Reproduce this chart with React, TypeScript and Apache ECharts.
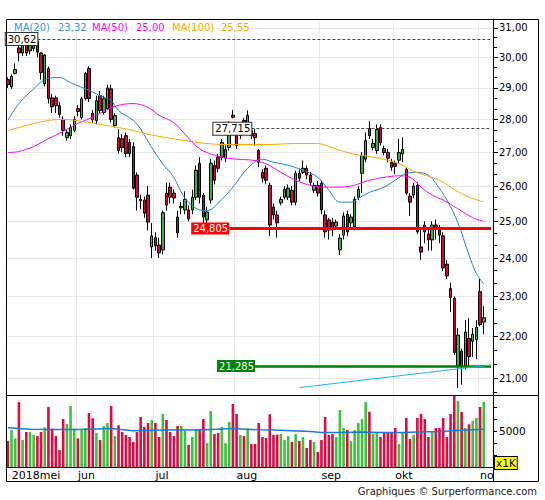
import React, { useEffect, useRef } from 'react';
import * as echarts from 'echarts';

// trading days start on Monday 7 May 2018; two empty slots sit before the price axis
const firstDay = '2018-05-07';
const slotCount = 132;
const monthLabels = ['2018mei', 'jun', 'jul', 'aug', 'sep', 'okt', 'no'];

const opens = [
  29.27, 29.04, 29.47, 30.32, 30.15, 30.42, 30.22, 30.30, 30.55, 30.15,
  29.13, 29.63, 28.68, 28.68, 28.43, 28.00, 27.44, 27.50, 27.66, 28.34,
  28.06, 28.66, 29.63, 28.20, 27.97, 28.75, 28.22, 28.34, 28.97, 27.81,
  27.44, 27.41, 27.50, 27.29, 27.17, 26.32, 25.62, 25.60, 25.74, 24.30,
  24.55, 24.35, 24.22, 25.80, 25.97, 25.80, 25.12, 25.38, 25.32, 25.32,
  25.32, 25.68, 26.67, 25.74, 25.04, 25.60, 26.60, 26.85, 26.85, 26.82,
  27.14, 28.13, 27.50, 27.50, 27.97, 27.66, 27.66, 27.57, 27.05, 26.40,
  26.52, 26.02, 25.40, 25.18, 25.52, 25.68, 25.68, 25.88, 25.54, 26.37,
  26.40, 26.52, 26.32, 25.88, 26.02, 26.08, 25.18, 25.04, 24.98, 24.87,
  24.22, 24.62, 25.20, 24.96, 24.84, 25.68, 26.37, 26.79, 27.72, 27.14,
  27.05, 27.75, 27.11, 26.99, 26.70, 26.67, 26.76, 26.95, 26.49, 25.71,
  25.74, 26.02, 24.30, 24.90, 24.65, 24.49, 24.90, 24.76, 24.60, 23.84,
  23.20, 22.95, 21.30, 21.64, 21.27, 21.95, 21.88, 21.92, 23.12, 22.35,
];
const highs = [
  29.34, 29.44, 29.80, 30.59, 30.58, 30.55, 30.50, 30.58, 30.62, 30.18,
  30.12, 29.70, 28.80, 28.75, 28.55, 28.10, 27.70, 27.85, 28.10, 28.45,
  28.72, 29.52, 29.70, 28.30, 28.75, 28.90, 28.75, 29.10, 29.10, 28.20,
  27.70, 27.55, 27.60, 27.40, 27.30, 26.40, 25.75, 25.70, 26.00, 24.95,
  24.70, 24.55, 25.30, 26.10, 26.10, 25.90, 25.30, 25.55, 25.85, 25.45,
  25.90, 26.60, 26.85, 25.80, 25.40, 26.80, 26.75, 26.95, 27.40, 27.20,
  27.95, 28.30, 27.70, 27.90, 28.05, 28.28, 27.85, 27.70, 27.10, 26.50,
  26.60, 26.10, 25.50, 25.30, 25.70, 26.00, 26.05, 26.00, 26.45, 26.50,
  26.75, 26.60, 26.40, 26.10, 26.15, 26.15, 25.30, 25.10, 25.10, 25.05,
  24.65, 25.25, 25.30, 25.20, 25.70, 26.00, 27.00, 27.60, 27.95, 27.40,
  27.85, 27.85, 27.20, 27.10, 26.80, 26.75, 27.40, 27.45, 26.55, 25.80,
  26.10, 26.10, 24.80, 25.00, 24.80, 25.00, 25.05, 24.90, 24.70, 23.95,
  23.35, 23.00, 22.20, 21.70, 22.40, 22.45, 22.20, 22.40, 23.45, 22.75,
];
const lows = [
  29.00, 28.97, 29.44, 29.87, 30.05, 30.05, 30.10, 30.20, 30.00, 29.27,
  29.05, 28.50, 28.20, 28.20, 28.05, 27.50, 27.35, 27.40, 27.60, 28.10,
  28.00, 28.60, 28.55, 27.90, 27.85, 28.20, 28.15, 28.30, 27.90, 27.75,
  26.95, 27.00, 26.85, 26.85, 25.90, 25.30, 25.35, 25.10, 24.75, 24.00,
  24.20, 24.00, 24.10, 25.30, 25.50, 25.50, 24.55, 25.20, 25.20, 25.00,
  25.20, 25.60, 25.50, 24.80, 24.90, 25.50, 26.05, 26.40, 26.75, 26.70,
  27.05, 28.03, 27.10, 27.40, 27.60, 27.60, 27.40, 27.20, 26.55, 26.10,
  26.05, 24.60, 25.05, 24.55, 25.45, 25.62, 25.60, 25.45, 25.45, 26.15,
  26.35, 26.20, 26.00, 25.80, 25.70, 25.20, 24.55, 24.50, 24.60, 24.80,
  24.08, 24.50, 24.60, 24.85, 24.75, 25.60, 25.80, 26.70, 27.40, 27.05,
  26.95, 27.20, 26.90, 26.70, 26.45, 26.35, 26.65, 26.70, 25.75, 25.15,
  25.65, 24.65, 23.95, 24.40, 24.20, 24.20, 24.50, 24.40, 23.65, 23.45,
  22.60, 21.55, 20.77, 20.85, 21.20, 21.25, 21.50, 21.45, 22.25, 22.05,
];
const closes = [
  29.11, 29.37, 29.60, 30.15, 30.55, 30.15, 30.42, 30.50, 30.18, 29.50,
  30.08, 28.66, 28.40, 28.43, 28.16, 27.66, 27.60, 27.75, 28.00, 28.25,
  28.65, 29.47, 28.66, 28.00, 28.59, 28.28, 28.65, 29.00, 28.00, 28.12,
  27.05, 27.14, 26.96, 26.96, 25.94, 25.68, 25.58, 25.23, 24.98, 24.60,
  24.33, 24.14, 25.24, 25.46, 25.68, 25.66, 24.68, 25.42, 25.62, 25.07,
  25.68, 26.46, 25.68, 25.12, 25.26, 26.67, 26.17, 26.52, 27.29, 27.08,
  27.81, 28.07, 27.20, 27.81, 27.72, 28.13, 27.50, 27.44, 26.70, 26.23,
  26.17, 24.90, 25.18, 24.96, 25.62, 25.90, 25.94, 25.54, 26.37, 26.23,
  26.52, 26.32, 26.11, 26.02, 25.80, 25.32, 24.71, 24.76, 24.76, 24.98,
  24.54, 25.15, 24.71, 25.12, 25.62, 25.90, 26.90, 27.35, 27.50, 27.26,
  27.69, 27.29, 26.99, 26.82, 26.55, 26.58, 26.99, 27.08, 25.80, 25.54,
  26.00, 24.71, 24.16, 24.71, 24.49, 24.90, 24.82, 24.62, 23.74, 23.53,
  22.97, 21.61, 22.03, 21.27, 22.10, 21.51, 22.05, 22.22, 22.29, 22.46,
];

// volume in thousands (x1K)
const volumes = [
  4170, 5090, 4390, 7420, 4250, 4920, 4920, 4670, 4590, 4920,
  5310, 7000, 5200, 4590, 3420, 6000, 5590, 7090, 5200, 4390,
  5060, 5250, 6500, 6060, 4840, 4250, 5420, 5670, 7090, 4590,
  5480, 4920, 4670, 4500, 4090, 4920, 6170, 5340, 5670, 5920,
  5670, 4500, 6420, 5920, 4920, 4590, 5420, 5420, 5000, 3840,
  4500, 5170, 5170, 6000, 4000, 6670, 4750, 4840, 5340, 4000,
  5750, 7250, 6420, 4670, 4590, 5200, 3920, 3920, 5670, 4500,
  4420, 6400, 4670, 4700, 4750, 4250, 4590, 4090, 4750, 4170,
  4500, 3580, 4250, 4090, 3250, 4250, 6170, 4670, 4750, 4500,
  6750, 5250, 5090, 4170, 5090, 5670, 6000, 7420, 6610, 4780,
  4860, 4500, 4860, 4860, 4860, 5250, 3920, 4860, 6090, 4340,
  4670, 6090, 6420, 6000, 4500, 5000, 5250, 5250, 6090, 4500,
  6420, 8000, 7500, 6590, 5250, 5560, 5840, 6100, 7000, 7420,
];

// moving averages: [day index, value]
const ma20: [number, number][] = [
  [0, 27.97], [3, 28.5], [7, 28.97], [10, 29.27], [14, 29.34], [17, 29.17], [21, 28.97],
  [25, 28.75], [28, 28.59], [30, 28.28], [34, 27.97], [36, 27.7], [39, 27.14], [42, 26.65],
  [45, 26.25], [48, 25.65], [52, 25.32], [54, 25.3], [57, 25.51], [61, 25.97], [65, 26.52],
  [69, 26.79], [72, 26.7], [76, 26.61], [80, 26.46], [84, 26.26], [87, 25.88], [90, 25.54],
  [93, 25.54], [95, 25.65], [98, 25.82], [102, 25.97], [105, 26.17], [108, 26.37], [111, 26.4],
  [114, 26.32], [116, 26.08], [119, 25.6], [122, 24.96], [125, 24.08], [127, 23.59], [129, 23.32],
];
const ma50: [number, number][] = [
  [0, 26.99], [3, 27.02], [7, 27.17], [11, 27.41], [15, 27.63], [19, 27.88], [22, 28.02],
  [24, 28.13], [29, 28.41], [34, 28.5], [38, 28.38], [41, 28.13], [45, 27.9], [48, 27.55],
  [52, 27.1], [57, 26.88], [62, 26.79], [67, 26.75], [71, 26.6], [74, 26.4], [78, 26.17],
  [81, 26.05], [85, 25.97], [89, 25.97], [93, 26.0], [98, 26.17], [103, 26.27], [106, 26.3],
  [109, 26.26], [112, 25.97], [115, 25.74], [118, 25.6], [122, 25.35], [126, 25.1], [129, 25.0],
];
const ma100: [number, number][] = [
  [0, 27.66], [5, 27.81], [11, 27.97], [16, 28.0], [20, 27.94], [25, 27.85], [30, 27.75],
  [34, 27.66], [38, 27.54], [43, 27.44], [48, 27.35], [54, 27.26], [59, 27.23], [65, 27.23],
  [71, 27.23], [77, 27.26], [84, 27.26], [88, 27.13], [93, 26.96], [99, 26.85], [103, 26.76],
  [107, 26.61], [110, 26.43], [113, 26.32], [117, 26.17], [121, 25.9], [125, 25.68], [129, 25.55],
];
const volumeMa: [number, number][] = [
  [0, 5280], [6, 5150], [12, 5130], [20, 5120], [28, 5200], [34, 5030], [43, 5080],
  [52, 5080], [61, 5200], [68, 5100], [72, 5080], [77, 5030], [82, 4950], [85, 4870],
  [90, 4870], [96, 4920], [101, 4870], [107, 4870], [111, 4920], [117, 4950], [123, 5060],
  [129, 5150],
];

const priceTicks = [21, 22, 23, 24, 25, 26, 27, 28, 29, 30, 31];
const volumeTicks = [5000];
const levels = [30.62, 27.715, 24.805, 21.285];
const trendLine: [number, number][] = [[79, 20.78], [131, 21.31]];

const FONT = 'DejaVu Sans';
const UP = '#3cb043';
const DOWN = '#d6083b';
const ln = (v: number) => Math.log(v);
const comma = (v: number, d?: number) => (d === undefined ? String(v) : v.toFixed(d)).replace('.', ',');

const days: string[] = [];
{
  const d = new Date(firstDay + 'T12:00:00Z');
  while (days.length < slotCount) {
    const wd = d.getUTCDay();
    if (wd > 0 && wd < 6) days.push(d.toISOString().slice(0, 10));
    d.setUTCDate(d.getUTCDate() + 1);
  }
}
const monthStart = days.map((d, i) => i === 0 || d.slice(5, 7) !== days[i - 1].slice(5, 7));
const labelAt: Record<number, string> = {};
{
  let k = 0;
  monthStart.forEach((m, i) => {
    if (m && i < opens.length && k < monthLabels.length) labelAt[i] = monthLabels[k++];
  });
}

const sparse = (pts: [number, number][], f: (v: number) => number) => {
  const arr: (number | null)[] = new Array(slotCount).fill(null);
  pts.forEach(([i, v]) => { arr[i] = f(v); });
  return arr;
};

const levelStyles = [
  { from: 8, line: { color: '#444', width: 1, type: [3, 2] }, label: { color: '#000', backgroundColor: '#fff', borderColor: '#333', borderWidth: 1 } },
  { from: 66, line: { color: '#444', width: 1, type: [3, 2] }, label: { color: '#000', backgroundColor: '#fff', borderColor: '#333', borderWidth: 1 } },
  { from: 60, line: { color: '#ff0000', width: 3, type: 'solid' }, label: { color: '#fff', backgroundColor: '#ff0000' } },
  { from: 67, line: { color: '#008000', width: 2.5, type: 'solid' }, label: { color: '#fff', backgroundColor: '#008000' } },
];

const maLines = [
  { name: 'MA(20)', points: ma20, color: '#1f80d8', text: '#3b93e2', x: [13, 57] },
  { name: 'MA(50)', points: ma50, color: '#ff00ff', text: '#ff00ff', x: [91, 135] },
  { name: 'MA(100)', points: ma100, color: '#ffa500', text: '#ffa500', x: [171, 220] },
];

function buildOption(): echarts.EChartsOption {
  const yMin = ln(20.61);
  const yMax = ln(31.31);
  const minorTicks: number[] = [];
  for (let p = 20; p <= 31; p++) {
    for (let k = 0; k < 3; k++) minorTicks.push(ln(p + k / 3));
  }

  const monthSplit = (i: number) => i > 0 && monthStart[i] && i < opens.length;

  const legendTexts: any[] = [];
  maLines.forEach((m) => {
    const last = m.points[m.points.length - 1][1];
    [m.name, comma(last, 2)].forEach((t, j) => {
      legendTexts.push({
        type: 'text', x: m.x[j], y: 27, z: 100,
        style: { text: t, fill: m.text, fontSize: 10, fontFamily: FONT, verticalAlign: 'middle', backgroundColor: '#fff', padding: [0, 1] },
      });
    });
  });

  return {
    animation: false,
    textStyle: { fontFamily: FONT },
    grid: [
      { left: 6, right: 52, top: 19, bottom: 105, containLabel: false },
      { left: 6, right: 52, top: 395, bottom: 33, containLabel: false },
    ] as any,
    xAxis: [
      {
        type: 'category', gridIndex: 0, data: days, boundaryGap: true,
        axisLine: { show: false }, axisTick: { show: false }, axisLabel: { show: false },
        splitLine: { show: true, interval: monthSplit as any, lineStyle: { color: '#e8e8e8', width: 1 } },
      },
      {
        type: 'category', gridIndex: 1, data: days, boundaryGap: true,
        axisLine: { show: true, lineStyle: { color: '#000', width: 1 } },
        axisTick: { show: false },
        splitLine: { show: true, interval: monthSplit as any, lineStyle: { color: '#e8e8e8', width: 1 } },
        axisLabel: {
          interval: ((i: number) => labelAt[i] !== undefined) as any,
          formatter: (_v: string, i: number) => (i === 0 ? `{first|${labelAt[0]}}` : labelAt[i] ?? ''),
          rich: { first: { padding: [0, 0, 0, 4], fontSize: 11, fontFamily: FONT, color: '#000' } },
          align: 'left', margin: 3, fontSize: 11, fontFamily: FONT, color: '#000',
        },
      },
    ],
    yAxis: [
      {
        type: 'value', gridIndex: 0, position: 'right', min: yMin, max: yMax,
        axisLine: { show: true, lineStyle: { color: '#000', width: 1 } },
        axisTick: { show: true, length: 5, customValues: priceTicks.map(ln), lineStyle: { color: '#000' } } as any,
        axisLabel: {
          customValues: priceTicks.map(ln),
          formatter: (v: number) => comma(Math.exp(v), 2),
          margin: 6, fontSize: 10, fontFamily: FONT, color: '#000',
        } as any,
        splitLine: { show: true, lineStyle: { color: '#e8e8e8', width: 1 } },
      },
      {
        type: 'value', gridIndex: 0, position: 'right', min: yMin, max: yMax,
        axisLine: { show: false }, axisLabel: { show: false }, splitLine: { show: false },
        axisTick: { show: true, length: 4, customValues: minorTicks, lineStyle: { color: '#000' } } as any,
      },
      {
        type: 'value', gridIndex: 1, position: 'right', min: 2000, max: 8000, interval: 1000,
        axisLine: { show: true, lineStyle: { color: '#000', width: 1 } },
        axisTick: { show: true, length: 4, lineStyle: { color: '#000' } },
        axisLabel: {
          formatter: (v: number) => (volumeTicks.includes(v) ? String(v) : ''),
          margin: 6, fontSize: 10.5, fontFamily: FONT, color: '#000',
        },
        splitLine: { show: false },
      },
    ],
    series: [
      {
        type: 'candlestick', xAxisIndex: 0, yAxisIndex: 0, barWidth: 3,
        data: opens.map((o, i) => [ln(o), ln(closes[i]), ln(lows[i]), ln(highs[i])]),
        itemStyle: {
          color: UP, color0: DOWN, borderColor: '#000', borderColor0: '#000', borderColorDoji: '#000', borderWidth: 1,
        } as any,
        markLine: {
          silent: true, symbol: ['none', 'none'], animation: false,
          data: [
            ...levels.map((v, k) => {
              const s = levelStyles[k];
              return [
                {
                  coord: [days[s.from], ln(v)],
                  lineStyle: s.line,
                  label: {
                    show: true, position: 'start', distance: 0, formatter: comma(v),
                    fontSize: 10, fontFamily: FONT, padding: [1, 1, 0, 2], lineHeight: 11, ...s.label,
                  },
                },
                { coord: [days[slotCount - 1], ln(v)] },
              ];
            }),
            [
              { coord: [days[trendLine[0][0]], ln(trendLine[0][1])], lineStyle: { color: '#19b5f0', width: 1, type: 'solid' }, label: { show: false } },
              { coord: [days[trendLine[1][0]], ln(trendLine[1][1])] },
            ],
          ] as any,
        },
      },
      ...maLines.map((m) => ({
        type: 'line' as const, xAxisIndex: 0, yAxisIndex: 0, name: m.name,
        data: sparse(m.points, ln), connectNulls: true, smooth: 0.35, showSymbol: false, symbol: 'none',
        lineStyle: { color: m.color, width: 1 }, silent: true,
      })),
      {
        type: 'bar', xAxisIndex: 1, yAxisIndex: 2, barWidth: 2.6,
        data: volumes.map((v, i) => ({ value: v, itemStyle: { color: closes[i] >= opens[i] ? '#3ec23e' : '#dc0b43' } })),
      },
      {
        type: 'line', xAxisIndex: 1, yAxisIndex: 2,
        data: sparse(volumeMa, (v) => v), connectNulls: true, showSymbol: false, symbol: 'none',
        lineStyle: { color: '#1a78d6', width: 1.5 }, silent: true,
      },
    ] as any,
    graphic: [
      { type: 'rect', z: 100, shape: { x: 6.5, y: 19.5, width: 532, height: 462 }, style: { fill: 'none', stroke: '#000', lineWidth: 1 } },
      { type: 'line', z: 100, shape: { x1: 6.5, y1: 395.5, x2: 538.5, y2: 395.5 }, style: { stroke: '#000', lineWidth: 1 } },
      { type: 'line', z: 100, shape: { x1: 493.5, y1: 19.5, x2: 493.5, y2: 481.5 }, style: { stroke: '#000', lineWidth: 1 } },
      ...legendTexts,
      {
        type: 'text', x: 495, y: 463, z: 100,
        style: { text: 'x1K', fill: '#000', fontSize: 10.5, fontFamily: FONT, verticalAlign: 'middle', backgroundColor: '#ffff00', borderColor: '#000', borderWidth: 1, padding: [1, 1, 0, 1] },
      },
      {
        type: 'text', x: 537, y: 491, z: 100,
        style: { text: 'Graphiques © Surperformance.com', fill: '#222', fontSize: 10, fontFamily: FONT, align: 'right', verticalAlign: 'middle' },
      },
    ] as any,
  };
}

const App: React.FC = () => {
  const chartRef = useRef<HTMLDivElement>(null);

  useEffect(() => {
    if (!chartRef.current) return;
    const chart = echarts.init(chartRef.current, undefined, { renderer: 'svg' });
    chart.setOption(buildOption());
    return () => {
      chart.dispose();
    };
  }, []);

  return <div ref={chartRef} style={{ position: 'absolute', left: 0, top: 0, width: 545, height: 500, background: '#fff' }} />;
};

export default App;
